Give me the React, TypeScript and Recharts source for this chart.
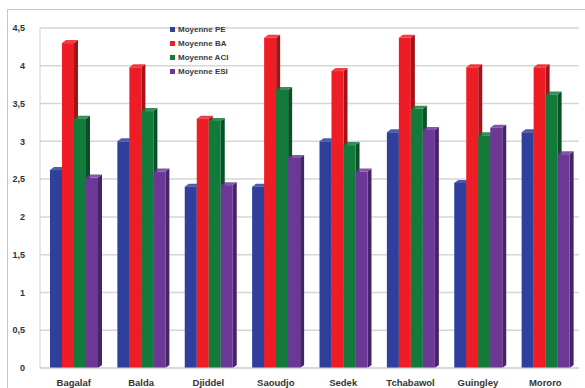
import { BarChart, Bar, XAxis, YAxis, CartesianGrid } from "recharts";

const sites = ["Bagalaf", "Balda", "Djiddel", "Saoudjo", "Sedek", "Tchabawol", "Guingley", "Mororo"];
const moyennePE = [2.62, 3.0, 2.4, 2.4, 3.0, 3.12, 2.45, 3.12];
const moyenneBA = [4.3, 3.98, 3.3, 4.37, 3.93, 4.37, 3.98, 3.98];
const moyenneACI = [3.3, 3.4, 3.27, 3.68, 2.95, 3.43, 3.08, 3.62];
const moyenneESI = [2.52, 2.6, 2.42, 2.78, 2.6, 3.15, 3.18, 2.83];
const yTicks = [0, 0.5, 1, 1.5, 2, 2.5, 3, 3.5, 4, 4.5];

const series = [
  { key: "pe", name: "Moyenne PE", color: "#2f3f9c", side: "#1e2a70" },
  { key: "ba", name: "Moyenne BA", color: "#ee1c24", side: "#a51218" },
  { key: "aci", name: "Moyenne ACI", color: "#127a3a", side: "#0a5026" },
  { key: "esi", name: "Moyenne ESI", color: "#6c3896", side: "#47236a" },
];

const data = sites.map((site, i) => ({
  site,
  pe: moyennePE[i],
  ba: moyenneBA[i],
  aci: moyenneACI[i],
  esi: moyenneESI[i],
}));

const DX = 4;
const DY = 3;
const font = "Liberation Sans, Arial, sans-serif";

// front face + right side + top face, to mimic the 3D column look
function Bar3D(props: any) {
  const { x, y, width, height, fill, side } = props;
  if (height == null || height <= 0) return null;
  return (
    <g>
      <path
        d={`M${x + width},${y} L${x + width + DX},${y - DY} L${x + width + DX},${y + height - DY} L${x + width},${y + height} Z`}
        fill={side}
      />
      <path
        d={`M${x},${y} L${x + DX},${y - DY} L${x + width + DX},${y - DY} L${x + width},${y} Z`}
        fill={fill}
        opacity={0.85}
      />
      <rect x={x} y={y} width={width} height={height} fill={fill} />
    </g>
  );
}

function LegendBox() {
  return (
    <div
      style={{
        position: "absolute",
        left: 170,
        top: 22,
        fontFamily: font,
        fontSize: 8,
        fontWeight: "bold",
        color: "#3a3a3a",
      }}
    >
      {series.map((s) => (
        <div key={s.key} style={{ display: "flex", alignItems: "center", height: 14 }}>
          <span style={{ width: 5, height: 5, background: s.color, marginRight: 3 }} />
          {s.name}
        </div>
      ))}
    </div>
  );
}

const fmt = (v: number) => String(v).replace(".", ",");

export default function App() {
  return (
    <div style={{ position: "absolute", left: 0, top: 0, width: 585, height: 388, background: "#fff" }}>
      <div
        style={{
          position: "absolute",
          left: 7,
          top: 9,
          width: 585,
          height: 388,
          border: "1px solid #c8c8c8",
          boxSizing: "border-box",
        }}
      />
      <BarChart
        width={585}
        height={388}
        data={data}
        margin={{ top: 28, right: 6, bottom: 0, left: 0 }}
        barGap={0}
        barSize={12}
        style={{ position: "absolute", left: 0, top: 0 }}
      >
        <CartesianGrid vertical={false} stroke="#d6d6d6" strokeWidth={1.5} />
        <XAxis
          dataKey="site"
          height={20}
          tickLine={false}
          axisLine={{ stroke: "#d0d0d0" }}
          tickMargin={5}
          interval={0}
          tick={{ fontSize: 9.5, fontWeight: "bold", fill: "#333", fontFamily: font }}
        />
        <YAxis
          width={40}
          domain={[0, 4.5]}
          ticks={yTicks}
          tickFormatter={fmt}
          tickLine={false}
          axisLine={{ stroke: "#d0d0d0" }}
          tickMargin={9}
          tick={{ fontSize: 9, fontWeight: "bold", fill: "#333", fontFamily: font }}
        />
        {series.map((s) => (
          <Bar
            key={s.key}
            dataKey={s.key}
            name={s.name}
            fill={s.color}
            isAnimationActive={false}
            shape={(p: any) => <Bar3D {...p} fill={s.color} side={s.side} />}
          />
        ))}
      </BarChart>
      <LegendBox />
    </div>
  );
}
